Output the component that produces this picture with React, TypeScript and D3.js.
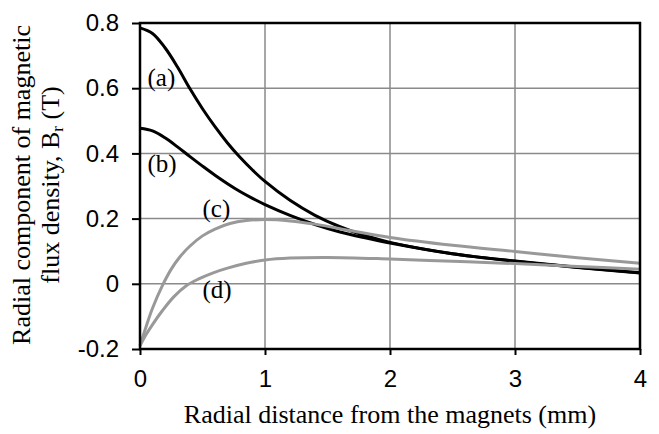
import { useEffect, useRef } from "react";
import * as d3 from "d3";

// curve samples: [radial distance (mm), Br (T)]
const curveA: [number, number][] = [
  [0, 0.785], [0.1, 0.768], [0.2, 0.724], [0.3, 0.665], [0.4, 0.598], [0.5, 0.537],
  [0.6, 0.482], [0.7, 0.432], [0.8, 0.388], [0.9, 0.349], [1.0, 0.314], [1.2, 0.256],
  [1.4, 0.21], [1.6, 0.175], [1.8, 0.148], [2.0, 0.127], [2.5, 0.092], [3.0, 0.07],
  [3.5, 0.051], [4.0, 0.034],
];
const curveB: [number, number][] = [
  [0, 0.477], [0.1, 0.469], [0.2, 0.448], [0.3, 0.42], [0.4, 0.39], [0.5, 0.361],
  [0.6, 0.333], [0.7, 0.307], [0.8, 0.283], [0.9, 0.262], [1.0, 0.243], [1.2, 0.21],
  [1.4, 0.182], [1.6, 0.159], [1.8, 0.141], [2.0, 0.125], [2.5, 0.092], [3.0, 0.069],
  [3.5, 0.05], [4.0, 0.033],
];
const curveC: [number, number][] = [
  [0, -0.19], [0.05, -0.13], [0.1, -0.075], [0.18, -0.005], [0.25, 0.045], [0.32, 0.083],
  [0.4, 0.116], [0.5, 0.147], [0.6, 0.168], [0.72, 0.185], [0.85, 0.194], [1.0, 0.197],
  [1.2, 0.193], [1.4, 0.183], [1.7, 0.162], [2.0, 0.142], [2.5, 0.118], [3.0, 0.099],
  [3.5, 0.08], [4.0, 0.063],
];
const curveD: [number, number][] = [
  [0, -0.19], [0.05, -0.155], [0.1, -0.125], [0.18, -0.082], [0.27, -0.04], [0.37, -0.006],
  [0.47, 0.015], [0.58, 0.033], [0.7, 0.048], [0.85, 0.063], [1.0, 0.073], [1.2, 0.079],
  [1.5, 0.081], [2.0, 0.076], [2.5, 0.069], [3.0, 0.062], [3.5, 0.053], [4.0, 0.045],
];

const xTicks = [0, 1, 2, 3, 4];
const yTicks = [-0.2, 0, 0.2, 0.4, 0.6, 0.8];

const series = [
  { name: "(a)", data: curveA, color: "#000", labelAt: [0.06, 0.607] },
  { name: "(b)", data: curveB, color: "#000", labelAt: [0.06, 0.343] },
  { name: "(c)", data: curveC, color: "#999", labelAt: [0.5, 0.205] },
  { name: "(d)", data: curveD, color: "#999", labelAt: [0.5, -0.044] },
];

const sans = "Liberation Sans, Arial, sans-serif";
const serif = "Liberation Serif, Times New Roman, serif";

const App = () => {
  const ref = useRef<SVGSVGElement>(null);

  useEffect(() => {
    const svg = d3.select(ref.current);
    svg.selectAll("*").remove();

    const margin = { top: 23, right: 19, bottom: 85, left: 140 };
    const W = 659, H = 434;
    const width = W - margin.left - margin.right;
    const height = H - margin.top - margin.bottom;

    const x = d3.scaleLinear().domain([0, 4]).range([0, width]);
    const y = d3.scaleLinear().domain([-0.2, 0.8]).range([height, 0]);

    const g = svg.append("g").attr("transform", `translate(${margin.left},${margin.top})`);

    // gridlines
    g.selectAll(".gx").data(xTicks.slice(1, -1)).enter().append("line")
      .attr("x1", d => x(d)).attr("x2", d => x(d))
      .attr("y1", 0).attr("y2", height)
      .attr("stroke", "#8a8a8a").attr("stroke-width", 1.5);
    g.selectAll(".gy").data(yTicks.slice(1, -1)).enter().append("line")
      .attr("x1", 0).attr("x2", width)
      .attr("y1", d => y(d)).attr("y2", d => y(d))
      .attr("stroke", "#8a8a8a").attr("stroke-width", 1.5);

    // curves
    const line = d3.line<[number, number]>()
      .x(d => x(d[0])).y(d => y(d[1]))
      .curve(d3.curveCatmullRom.alpha(0.5));
    series.forEach(s => {
      g.append("path").datum(s.data)
        .attr("d", line)
        .attr("fill", "none")
        .attr("stroke", s.color)
        .attr("stroke-width", 3);
    });

    // frame
    g.append("rect")
      .attr("width", width).attr("height", height)
      .attr("fill", "none").attr("stroke", "#000").attr("stroke-width", 2.5);

    // axes
    g.append("g")
      .attr("transform", `translate(0,${height})`)
      .call(d3.axisBottom(x).tickValues(xTicks).tickSize(6).tickPadding(15).tickFormat(d3.format("d")))
      .call(a => a.select(".domain").remove())
      .call(a => a.selectAll("line").attr("stroke", "#000").attr("stroke-width", 2))
      .call(a => a.selectAll("text").attr("font-family", sans).attr("font-size", 24).attr("fill", "#000"));

    g.append("g")
      .call(d3.axisLeft(y).tickValues(yTicks).tickSize(8).tickPadding(13).tickFormat(d => (+d === 0 ? "0" : d3.format(".1f")(+d).replace("−", "-"))))
      .call(a => a.select(".domain").remove())
      .call(a => a.selectAll("line").attr("stroke", "#000").attr("stroke-width", 2))
      .call(a => a.selectAll("text").attr("font-family", sans).attr("font-size", 24).attr("fill", "#000"));

    // curve labels
    series.forEach(s => {
      g.append("text")
        .attr("x", x(s.labelAt[0])).attr("y", y(s.labelAt[1]))
        .attr("font-family", serif)
        .attr("font-size", 25)
        .attr("fill", "#000")
        .text(s.name);
    });

    // axis titles
    svg.append("text")
      .attr("x", margin.left + width / 2).attr("y", 423)
      .attr("text-anchor", "middle")
      .attr("font-family", serif)
      .attr("font-size", 26)
      .text("Radial distance from the magnets (mm)");

    const yt = svg.append("text")
      .attr("transform", `translate(0,185) rotate(-90)`)
      .attr("text-anchor", "middle")
      .attr("font-family", serif)
      .attr("font-size", 26);
    yt.append("tspan").attr("x", 0).attr("y", 30).text("Radial component of magnetic");
    const l2 = yt.append("tspan").attr("x", 0).attr("y", 59);
    l2.append("tspan").text("flux density, B");
    l2.append("tspan").attr("font-size", 17).attr("dy", 4).text("r");
    l2.append("tspan").attr("dy", -4).text(" (T)");
  }, []);

  return (
    <svg ref={ref} width={659} height={434} style={{ position: "absolute", left: 0, top: 0, background: "#fff" }} />
  );
};

export default App;
